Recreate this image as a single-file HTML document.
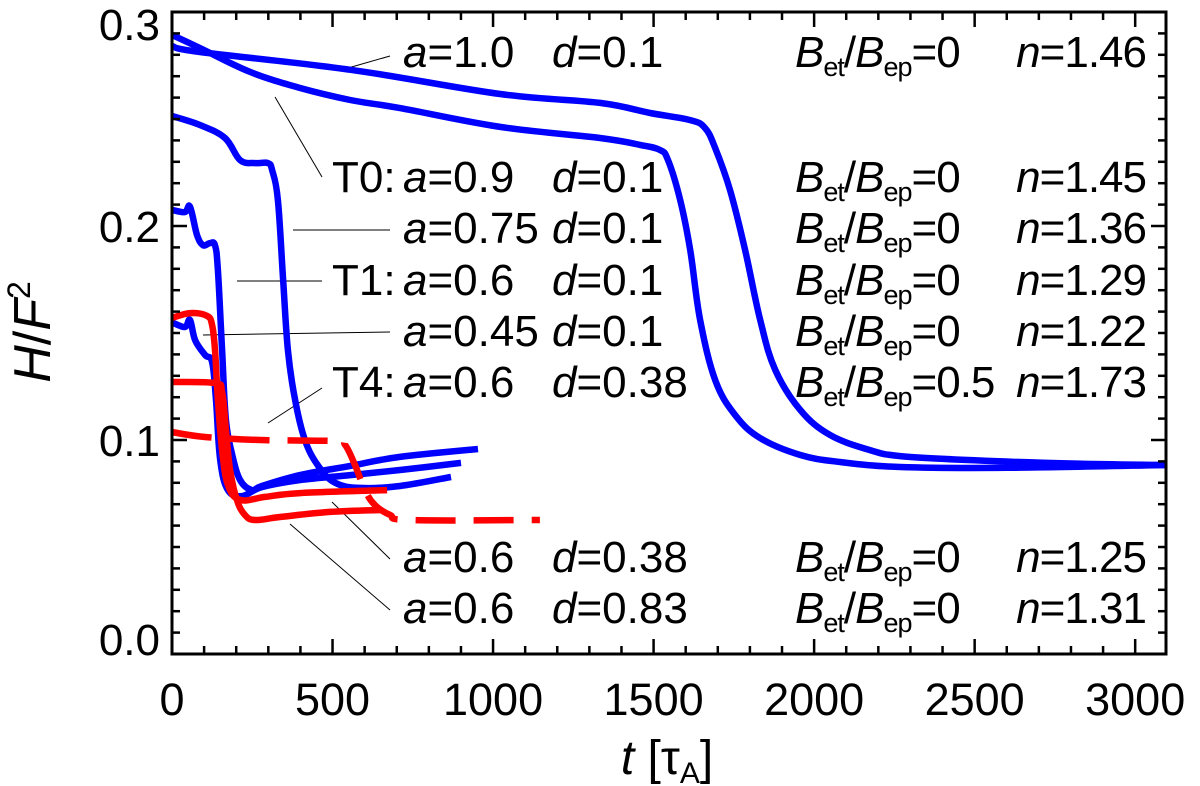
<!DOCTYPE html>
<html><head><meta charset="utf-8"><style>
html,body{margin:0;padding:0;background:#fff;}
svg{display:block;font-family:"Liberation Sans",sans-serif;}
</style></head><body>
<svg id="chart" width="1200" height="786" viewBox="0 0 1200 786" xmlns="http://www.w3.org/2000/svg">
<g id="annot" stroke="#000" stroke-width="1"></g>
<g id="series"></g>
<g id="axes"></g>
<g id="labels" font-size="44" fill="#000"></g>
</svg>
<script>
// ---- data ----
const t_a10 = [0,87,556,1022,1333,1489,1614,1660,1692,1738,1785,1832,1879,1957,2050,2174,2268,2500,2800,3100];
const v_a10 = [0.2841,0.2813,0.273,0.2617,0.2575,0.2528,0.2495,0.2458,0.2364,0.2168,0.1888,0.1561,0.1327,0.114,0.1023,0.0953,0.0925,0.0905,0.089,0.0883];
const t_T0 = [0,87,243,399,555,710,1022,1333,1458,1520,1545,1583,1614,1645,1692,1754,1832,1957,2081,2268,2600,3100];
const v_T0 = [0.2893,0.2832,0.272,0.2645,0.2589,0.2551,0.2463,0.2411,0.2379,0.2355,0.2308,0.2121,0.1888,0.1561,0.128,0.1117,0.1009,0.093,0.0897,0.0874,0.087,0.0883];
const t_a075 = [0,87,165,212,259,299,312,330,346,361,383,414,455,508,586,710,869];
const v_a075 = [0.2514,0.2472,0.2411,0.2308,0.2294,0.2294,0.226,0.212,0.175,0.142,0.119,0.1,0.088,0.08,0.0776,0.0785,0.0827];
const t_T1 = [0,40,56,78,97,118,134,143,156,168,187,212,249,280,399,555,710,953];
const v_T1 = [0.2075,0.2065,0.209,0.1958,0.191,0.192,0.191,0.1794,0.142,0.1095,0.0935,0.0813,0.0766,0.0785,0.0836,0.0879,0.0921,0.0958];
const t_a045 = [0,40,56,72,103,125,137,150,174,218,280,399,555,710,900];
const v_a045 = [0.155,0.1528,0.1561,0.1467,0.1397,0.1364,0.1187,0.0907,0.0766,0.0738,0.078,0.0813,0.0836,0.086,0.0893];
const t_T4 = [0,103,274,508,539,570,601,632,679,741,1146];
const v_T4 = [0.1037,0.1014,0.1,0.0995,0.0977,0.0883,0.0766,0.0696,0.065,0.0626,0.0626];
const t_d038 = [0,56,109,125,134,143,156,174,212,290,399,670];
const v_d038 = [0.157,0.1593,0.158,0.1537,0.142,0.1187,0.0953,0.079,0.072,0.0734,0.0752,0.0766];
const t_d083 = [0,134,156,168,181,202,227,259,336,492,654];
const v_d083 = [0.1271,0.1266,0.1224,0.1047,0.086,0.072,0.065,0.0626,0.064,0.0664,0.0673];
const xTicks = [0,500,1000,1500,2000,2500,3000];
const xTickLabels = ["0","500","1000","1500","2000","2500","3000"];
const yTicks = [0,0.1,0.2,0.3];
const yTickLabels = ["0.0","0.1","0.2","0.3"];

const NS="http://www.w3.org/2000/svg";
const L=172,R=1166,T=12,B=654, XMAX=3096, YMAX=0.3;
const X=t=>L+t*(R-L)/XMAX;
const Y=v=>B-v*(B-T)/YMAX;
function mk(tag,parent,attrs){const e=document.createElementNS(NS,tag);for(const k in attrs)e.setAttribute(k,attrs[k]);parent.appendChild(e);return e;}

const sg=document.getElementById('series');
function smoothPath(pts){
  let d='M'+pts[0][0].toFixed(1)+' '+pts[0][1].toFixed(1);
  const k=0.18;
  for(let i=0;i<pts.length-1;i++){
    const p0=pts[Math.max(0,i-1)],p1=pts[i],p2=pts[i+1],p3=pts[Math.min(pts.length-1,i+2)];
    const c1=[p1[0]+(p2[0]-p0[0])*k,p1[1]+(p2[1]-p0[1])*k];
    const c2=[p2[0]-(p3[0]-p1[0])*k,p2[1]-(p3[1]-p1[1])*k];
    d+=' C'+c1[0].toFixed(1)+' '+c1[1].toFixed(1)+' '+c2[0].toFixed(1)+' '+c2[1].toFixed(1)+' '+p2[0].toFixed(1)+' '+p2[1].toFixed(1);
  }
  return d;
}
function series(ts,vs,color,name,dash){
  const pts=ts.map((t,i)=>[X(t),Y(vs[i])]);
  const p=mk('path',sg,{d:smoothPath(pts),fill:'none',stroke:color,'stroke-width':6.5,'stroke-linejoin':'round','stroke-linecap':'butt'});
  if(dash)p.setAttribute('stroke-dasharray',dash);
  
  
}
series(t_a10,v_a10,'#0000ff','line-a1.0');
series(t_T0,v_T0,'#0000ff','line-T0');
series(t_a075,v_a075,'#0000ff','line-a0.75');
series(t_T1,v_T1,'#0000ff','line-T1');
series(t_a045,v_a045,'#0000ff','line-a0.45');
series(t_d038,v_d038,'#ff0000','line-d0.38');
series(t_d083,v_d083,'#ff0000','line-d0.83');
series(t_T4,v_T4,'#ff0000','line-T4-dashed','40 18');

// axes
const ax=document.getElementById('axes');
const frame=mk('rect',ax,{x:L,y:T,width:R-L,height:B-T,fill:'none',stroke:'#000','stroke-width':3});


for(let t=0;t<=XMAX;t+=100){
  const major=t%500===0, len=major?15:8, x=X(t);
  const a=mk('line',ax,{x1:x,y1:B,x2:x,y2:B-len,stroke:'#000','stroke-width':2.5});
  
  
  const b=mk('line',ax,{x1:x,y1:T,x2:x,y2:T+len,stroke:'#000','stroke-width':2.5});
  
  
}
for(let i=0;i<=30;i++){
  const v=i/100, major=i%10===0, len=major?15:8, y=Y(v);
  const a=mk('line',ax,{x1:L,y1:y,x2:L+len,y2:y,stroke:'#000','stroke-width':2.5});
  
  
  const b=mk('line',ax,{x1:R,y1:y,x2:R-len,y2:y,stroke:'#000','stroke-width':2.5});
  
  
}
xTicks.forEach((t,i)=>{
  const e=mk('text',ax,{x:X(t),y:715,'text-anchor':'middle','font-size':45});
  e.textContent=xTickLabels[i];
  
  
});
yTicks.forEach((v,i)=>{
  let yy=Y(v)+16; if(yy<40)yy=40; if(yy>655)yy=655;
  const e=mk('text',ax,{x:160,y:yy,'text-anchor':'end','font-size':44});
  e.textContent=yTickLabels[i];
  
  
});
const xt=mk('text',ax,{x:667,y:774,'text-anchor':'middle','font-size':48});
xt.setAttribute('xml:space','preserve');
xt.innerHTML='<tspan font-style="italic">t</tspan>  [τ<tspan font-size="30" dy="9">A</tspan><tspan dy="-9">]</tspan>';


const yt=mk('text',ax,{x:0,y:0,'text-anchor':'middle','font-size':52,transform:'translate(50,332) rotate(-90)'});
yt.innerHTML='<tspan font-style="italic">H</tspan>/<tspan font-style="italic">F</tspan><tspan font-size="32" dy="-20">2</tspan>';



// annotation pointer lines
const an=document.getElementById('annot');
[[348,68,390,56],[275,97,322,177],[293,230,390,230],[237,281,322,281],[203,335,390,332],[268,423,322,388],[332,502,390,559],[290,524,390,610]].forEach(c=>{
  const l=mk('line',an,{x1:c[0],y1:c[1],x2:c[2],y2:c[3]});
  
  
});

// labels
const lg=document.getElementById('labels');
const rows=[
 [67,'','1.0','0.1','0','1.46'],
 [192,'T0:','0.9','0.1','0','1.45'],
 [243,'','0.75','0.1','0','1.36'],
 [295,'T1:','0.6','0.1','0','1.29'],
 [346,'','0.45','0.1','0','1.22'],
 [397,'T4:','0.6','0.38','0.5','1.73'],
 [572,'','0.6','0.38','0','1.25'],
 [623,'','0.6','0.83','0','1.31']
];
rows.forEach(r=>{
  const g=mk('g',lg,{});
  
  
  if(r[1]){const e=mk('text',g,{x:332,y:r[0]});e.textContent=r[1];}
  const a=mk('text',g,{x:403,y:r[0]});a.innerHTML='<tspan font-style="italic">a</tspan>='+r[2];
  const d=mk('text',g,{x:552,y:r[0]});d.innerHTML='<tspan font-style="italic">d</tspan>='+r[3];
  const b=mk('text',g,{x:795,y:r[0],'letter-spacing':'-1'});b.innerHTML='<tspan font-style="italic">B</tspan><tspan font-size="27" dy="9">et</tspan><tspan dy="-9">/</tspan><tspan font-style="italic">B</tspan><tspan font-size="27" dy="9">ep</tspan><tspan dy="-9">='+r[4]+'</tspan>';
  const n=mk('text',g,{x:1146,y:r[0],'text-anchor':'end','letter-spacing':'-1'});n.innerHTML='<tspan font-style="italic">n</tspan>='+r[5];
});
</script>
</body></html>
